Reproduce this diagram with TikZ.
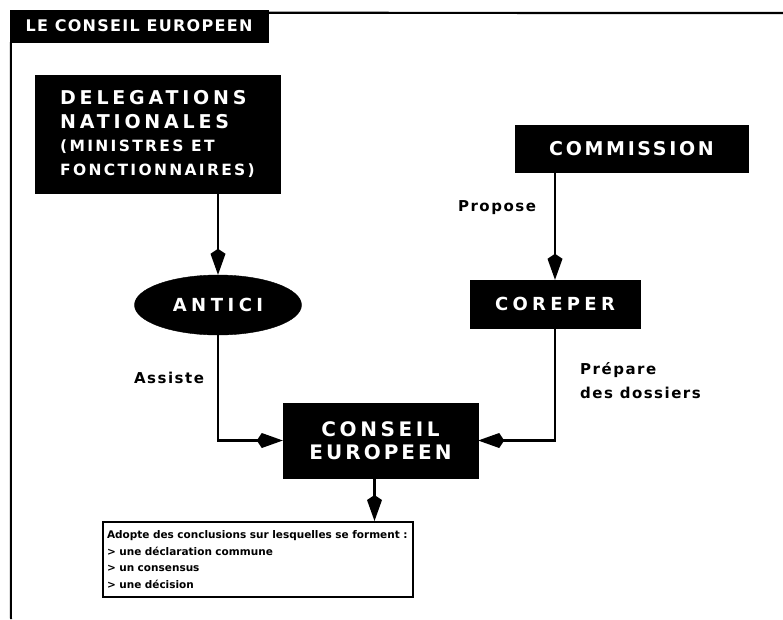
\documentclass[tikz,border=0pt]{standalone}
\usepackage{fontspec}
\setmainfont{DejaVu Sans}
\newfontfamily\boxfont{DejaVu Sans Bold}
\newfontfamily\labfont[LetterSpace=10]{DejaVu Sans Bold}
\newfontfamily\titfont[LetterSpace=8]{DejaVu Sans Bold}
\newcommand\myls[1]{\addfontfeatures{LetterSpace=#1}}
\usetikzlibrary{shapes.geometric,arrows.meta}
\tikzset{
  blackbox/.style={fill=black, draw=black, text=white, inner sep=0pt},
  arr/.style={line width=2.4pt, -{Kite[length=26pt,width=15pt,inset=5pt]}},
  lab/.style={font=\labfont\fontsize{15}{18}\selectfont, inner sep=0pt},
}
\begin{document}
\begin{tikzpicture}[x=1pt,y=-1pt]
\useasboundingbox (0,0) rectangle (783,619);
\fill[white] (0,0) rectangle (783,619);
% frame
\node[blackbox, font=\titfont\fontsize{16}{18}\selectfont, minimum width=258pt, minimum height=32pt] (title) at (139,26) {LE CONSEIL EUROPEEN};
\draw[line width=2.2pt] (title.north east) ++(0,3) coordinate (tr) -- (783,13) coordinate (fr);
\draw[line width=2pt] (title.south west) ++(1,0) coordinate (tl) -- (11,619) coordinate (fb);
% nodes
\node[blackbox, minimum width=245pt, minimum height=118pt, align=left, font=\boxfont\fontsize{19}{23.5}\selectfont] (deleg) at (157.5,134)
  {\myls{20}DELEGATIONS\\\myls{20}NATIONALES\\
   {\fontsize{15.5}{23.5}\selectfont\myls{15}(MINISTRES ET}\\{\fontsize{15.5}{23.5}\selectfont\myls{15}FONCTIONNAIRES)}};
\node[blackbox, ellipse, minimum width=167pt, minimum height=60pt, font=\boxfont\fontsize{18}{21}\selectfont\myls{25}] (antici) at (218,305) {ANTICI};
\node[blackbox, minimum width=233pt, minimum height=47pt, font=\boxfont\fontsize{19}{22}\selectfont\myls{14}] (comm) at (631.5,148.5) {COMMISSION};
\node[blackbox, minimum width=170pt, minimum height=48pt, font=\boxfont\fontsize{18}{21}\selectfont\myls{24}] (corep) at (555,304) {COREPER};
\node[blackbox, minimum width=195pt, minimum height=75pt, align=center, font=\boxfont\fontsize{20}{23}\selectfont] (conseil) at (380.5,440.5) {\myls{18}CONSEIL\\\myls{15}EUROPEEN};
\node[draw=black, line width=2pt, fill=white, minimum width=310pt, minimum height=75pt, text width=302pt, inner sep=4pt, align=left, font=\bfseries\fontsize{10.5}{16.5}\selectfont] (concl) at (258,559.5)
  {Adopte des conclusions sur lesquelles se forment :\\
   > une déclaration commune\\
   > un consensus\\
   > une décision};
% connectors
\draw[arr] (antici.north |- deleg.south) -- (antici.north);
\draw[arr] (corep.north |- comm.south) -- (corep.north);
\draw[arr] (antici.south) |- (conseil.west);
\draw[arr] (corep.south) |- (conseil.east);
\draw[arr] ([xshift=-6pt]conseil.south) -- ([xshift=-6pt]conseil.south |- concl.north);
% labels
\node[lab] (assiste) at (169,378) {Assiste};
\node[lab] (propose) at (497,208) {Propose};
\node[lab, anchor=west, align=left, font=\labfont\fontsize{15}{24}\selectfont] (prepare) at (580,381) {Prépare\\des dossiers};
\end{tikzpicture}
\end{document}
